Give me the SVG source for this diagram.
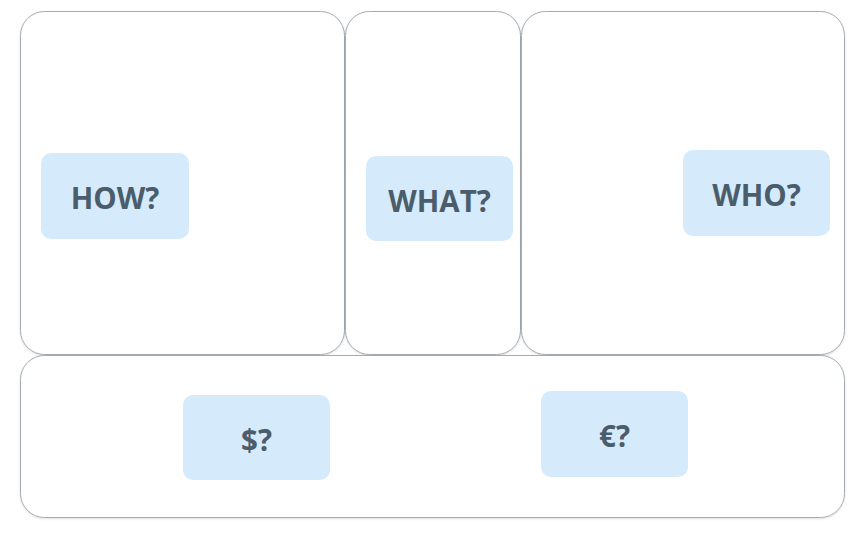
<svg xmlns="http://www.w3.org/2000/svg" width="864" height="538" viewBox="0 0 864 538">
<style>
.panel{fill:#ffffff;stroke:#a3acb1;stroke-width:1}
.tag{fill:#d5ebfc}
.lbl{font-family:"Open Sans","DejaVu Sans",sans-serif;font-weight:bold;font-size:29.5px;fill:#4b5d6b;text-anchor:middle;dominant-baseline:central}
</style>
<defs>
<filter id="sh" x="-5%" y="-5%" width="110%" height="110%">
<feDropShadow dx="0" dy="1" stdDeviation="1.2" flood-color="#000" flood-opacity="0.12"/>
</filter>
</defs>
<rect width="864" height="538" fill="#ffffff"/>
<g id="panel-how"><rect class="panel" filter="url(#sh)" x="20.5" y="11.5" width="324" height="343" rx="24"/></g>
<g id="panel-what"><rect class="panel" filter="url(#sh)" x="345.5" y="11.5" width="175" height="343" rx="24"/></g>
<g id="panel-who"><rect class="panel" filter="url(#sh)" x="521.5" y="11.5" width="323" height="343" rx="24"/></g>
<g id="panel-bottom"><rect class="panel" filter="url(#sh)" x="20.5" y="355.5" width="824" height="162" rx="24"/></g>
<g id="connectors"></g>
<g id="how"><rect class="tag" x="41" y="153" width="148" height="86" rx="10"/><text class="lbl" x="115" y="197">HOW?</text></g>
<g id="what"><rect class="tag" x="366" y="156" width="147" height="85" rx="10"/><text class="lbl" x="439.5" y="200">WHAT?</text></g>
<g id="who"><rect class="tag" x="683" y="150" width="147" height="86" rx="10"/><text class="lbl" x="756.5" y="194">WHO?</text></g>
<g id="dollar"><rect class="tag" x="183" y="395" width="147" height="85" rx="10"/><text class="lbl" x="256.5" y="439">$?</text></g>
<g id="euro"><rect class="tag" x="541" y="391" width="147" height="86" rx="10"/><text class="lbl" x="614.5" y="435">€?</text></g>
</svg>
